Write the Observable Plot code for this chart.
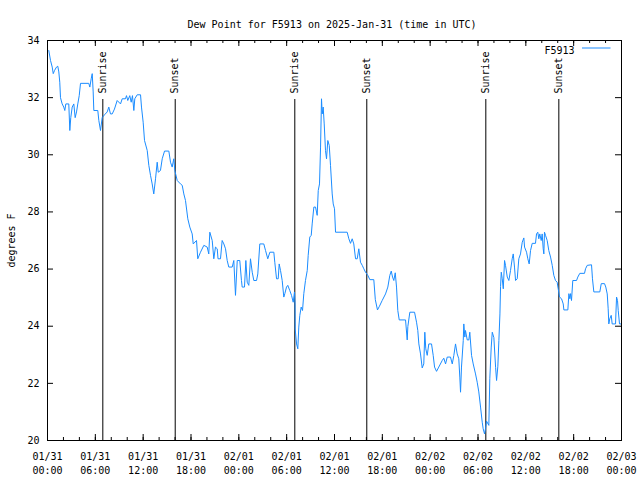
<!DOCTYPE html>
<html>
<head>
<meta charset="utf-8">
<script src="https://cdn.jsdelivr.net/npm/d3@7"></script>
<script src="https://cdn.jsdelivr.net/npm/@observablehq/plot@0.6"></script>
<style>
  html, body { margin: 0; padding: 0; background: #fff; }
  #chart svg { display: block; }
</style>
</head>
<body>
<div id="chart"></div>
<script>
// ---- data ----
const titleText = "Dew Point for F5913 on 2025-Jan-31 (time in UTC)";
const seriesName = "F5913";
const yLabel = "degrees F";
const startTime = "2025-01-31T00:00:00Z";
const endTime = "2025-02-03T00:00:00Z";

// hours after 2025-01-31 00:00 UTC
const hours = [
  0.16,0.38,0.59,0.72,0.88,1.13,1.29,1.42,1.54,1.63,1.84,2.04,2.17,2.30,2.67,2.80,2.92,3.10,3.30,3.47,
  3.64,3.80,3.98,4.14,5.18,5.31,5.48,5.61,5.73,5.81,6.31,6.44,6.65,6.86,7.15,7.49,7.69,7.90,8.12,8.40,
  8.74,9.16,9.37,9.78,9.91,10.07,10.32,10.50,10.66,10.83,10.95,11.25,11.67,11.79,12.00,12.17,12.51,12.71,12.92,13.13,
  13.33,13.55,13.76,13.89,14.17,14.39,14.68,15.22,15.43,15.64,15.84,15.97,16.27,16.68,16.90,17.10,17.31,17.60,17.85,18.15,
  18.28,18.69,18.85,19.19,19.61,20.03,20.23,20.36,20.66,20.86,21.07,21.29,21.39,21.70,21.91,22.12,22.33,22.54,22.74,23.17,
  23.37,23.58,23.80,24.12,24.33,24.42,24.71,24.88,25.05,25.25,25.46,25.68,25.88,26.22,26.38,26.63,27.13,27.35,27.63,27.89,
  28.39,28.51,28.73,28.94,29.06,29.23,29.44,29.64,29.77,29.98,30.14,30.39,30.61,30.82,30.98,31.05,31.07,31.24,31.40,31.52,
  31.65,31.82,31.99,32.15,32.36,32.58,32.70,32.90,33.08,33.20,33.41,33.62,33.83,33.96,34.12,34.25,34.37,34.46,34.58,34.71,
  34.87,35.00,35.16,35.34,35.50,35.71,35.84,36.00,36.13,37.59,37.80,38.01,38.22,38.42,38.64,38.85,39.05,39.26,39.48,39.68,
  39.89,40.18,40.43,40.93,41.12,41.39,41.64,41.98,42.40,42.69,42.94,43.12,43.28,43.44,43.62,43.78,43.94,44.12,44.91,45.12,
  45.20,45.45,46.04,46.29,46.45,46.58,46.79,47.00,47.20,47.33,47.45,47.63,47.83,48.17,48.38,48.55,48.80,49.08,49.51,49.71,
  49.93,50.14,50.55,50.77,50.97,51.18,51.39,51.59,51.72,51.81,51.93,52.15,52.22,52.35,52.43,52.65,52.85,52.97,53.19,53.40,
  53.69,53.90,54.10,54.32,54.53,54.65,54.82,54.94,55.07,55.36,55.48,55.66,55.79,55.99,56.21,56.33,56.49,56.62,56.75,56.83,
  56.92,57.04,57.17,57.33,57.45,57.67,57.87,58.08,58.29,58.42,58.58,58.71,58.92,59.12,59.33,59.55,59.75,59.84,60.09,60.25,
  60.42,60.59,60.80,61.21,61.34,61.50,61.63,61.75,61.93,62.05,62.18,62.26,62.34,62.47,62.68,62.88,63.10,63.31,63.51,63.72,
  63.93,64.06,64.23,64.48,64.69,64.77,65.27,65.40,65.52,65.61,65.73,65.89,66.36,66.52,66.77,67.36,67.49,67.70,68.24,68.36,
  68.53,69.28,69.46,69.87,70.03,70.21,70.33,70.41,70.53,70.71,70.83,71.25,71.38,71.50,71.59,71.75,71.97
];

// dew point, degrees F
const dewF = [
  33.65,33.30,33.07,32.84,32.95,33.07,33.10,32.90,32.54,32.00,31.78,31.67,31.55,31.78,31.78,30.85,31.30,31.67,31.78,31.30,
  31.50,31.78,32.07,32.50,32.50,32.37,32.66,32.84,32.20,31.55,31.55,31.20,30.85,31.30,31.40,31.50,31.67,31.43,31.43,31.60,
  31.90,31.78,31.96,31.96,32.07,31.90,32.07,31.84,32.07,31.55,31.96,32.10,32.10,31.67,31.14,30.50,30.15,29.63,29.28,28.98,
  28.63,29.16,29.74,29.39,29.45,29.86,30.13,30.13,29.74,29.57,29.86,29.45,29.10,28.98,28.93,28.63,28.40,27.76,27.47,27.23,
  26.88,27.00,26.36,26.59,26.83,26.77,26.53,27.29,27.00,26.36,26.77,26.71,26.36,26.36,27.00,26.88,26.71,26.30,26.07,26.07,
  26.30,25.08,26.30,26.30,25.60,25.37,25.37,26.30,25.54,25.43,26.36,25.89,25.60,25.60,25.83,26.88,26.88,26.65,26.36,26.59,
  26.59,26.24,25.66,25.66,26.18,25.95,25.60,25.02,25.14,25.37,25.43,25.25,25.08,24.84,25.20,24.78,23.90,23.38,23.21,23.97,
  24.38,24.67,24.55,25.14,25.60,25.95,26.48,27.12,27.18,27.58,28.17,28.17,27.88,28.75,28.98,30.27,31.96,31.43,31.67,31.08,
  30.15,29.86,30.50,30.33,29.63,28.63,28.28,28.11,27.29,27.29,27.06,26.90,27.06,26.88,26.36,26.36,26.71,26.24,26.13,26.01,
  25.89,25.78,25.63,25.63,24.93,24.57,24.70,24.90,25.13,25.37,25.78,25.93,25.72,25.60,25.87,25.37,24.55,24.22,24.22,23.52,
  23.99,24.49,24.49,24.14,23.85,23.38,23.03,22.54,22.68,23.79,23.21,22.98,23.38,23.38,22.98,22.57,22.42,22.57,22.80,22.88,
  22.68,22.92,22.92,22.68,22.98,23.38,23.03,22.86,22.22,21.69,22.57,23.50,24.08,23.62,23.85,23.52,23.52,23.79,22.98,22.68,
  22.33,22.04,21.70,21.17,20.64,20.41,20.23,20.41,20.68,20.53,22.16,23.27,23.79,23.60,22.55,22.10,22.60,23.50,24.43,25.39,
  25.89,25.66,25.31,26.30,26.13,25.72,25.60,25.95,26.36,26.53,26.07,25.60,25.66,26.36,26.53,26.94,27.09,26.77,26.59,26.36,
  26.18,26.65,26.90,26.90,27.23,27.29,27.06,27.23,27.00,27.23,26.71,26.53,27.29,27.18,27.00,26.65,26.42,26.13,25.78,25.60,
  25.54,25.31,25.02,24.96,24.78,24.57,24.57,25.14,24.96,25.14,24.90,25.60,25.60,25.72,25.85,25.85,26.01,26.13,26.15,25.66,
  25.20,25.20,25.49,25.49,25.37,25.13,24.61,24.08,24.26,24.38,24.08,24.08,25.02,24.90,24.55,24.08,24.08
];

// sun events (hours after start) and their labels
const sunHours = [6.94, 16.02, 31.02, 40.05, 54.98, 64.14];
const sunLabels = ["Sunrise", "Sunset", "Sunrise", "Sunset", "Sunrise", "Sunset"];

const yTickValues = [20, 22, 24, 26, 28, 30, 32, 34];

// ---- build tables ----
const t0 = new Date(startTime).getTime();
const t1 = new Date(endTime);
const toDate = h => new Date(t0 + h * 3600e3);
const series = hours.map((h, i) => ({time: toDate(h), dew: dewF[i]}));
const sunEvents = sunHours.map((h, i) => ({time: toDate(h), label: sunLabels[i]}));
const majorTicks = d3.utcHour.every(6).range(new Date(t0), new Date(t1.getTime() + 1));
const minorTicks = d3.utcHour.every(2).range(new Date(t0), new Date(t1.getTime() + 1));

const lineColor = "#1a8cff";
const W = 640, H = 480, ML = 47, MR = 19, MT = 40, MB = 40;
const fw = W - ML - MR, fh = H - MT - MB;

const chart = Plot.plot({
  width: W,
  height: H,
  marginLeft: ML,
  marginRight: MR,
  marginTop: MT,
  marginBottom: MB,
  style: {fontFamily: "'DejaVu Sans Mono', monospace", fontSize: "10px", color: "#000", background: "#fff"},
  x: {type: "utc", domain: [new Date(t0), t1]},
  y: {domain: [20, 34]},
  marks: [
    // ticks (inward, mirrored)
    Plot.tickX(minorTicks, {x: d => d, insetTop: fh - 3, stroke: "#000"}),
    Plot.tickX(minorTicks, {x: d => d, insetBottom: fh - 3, stroke: "#000"}),
    Plot.tickX(majorTicks, {x: d => d, insetTop: fh - 6, stroke: "#000"}),
    Plot.tickX(majorTicks, {x: d => d, insetBottom: fh - 6, stroke: "#000"}),
    Plot.tickY(yTickValues, {y: d => d, insetRight: fw - 6, stroke: "#000"}),
    Plot.tickY(yTickValues, {y: d => d, insetLeft: fw - 6, stroke: "#000"}),
    // axes labels
    Plot.axisX(majorTicks, {
      tickSize: 0, tickPadding: 10, lineHeight: 1.4,
      tickFormat: d3.utcFormat("%m/%d\n%H:%M"), label: null
    }),
    Plot.axisY(yTickValues, {
      tickSize: 0, tickPadding: 8, label: yLabel, labelAnchor: "center",
      labelOffset: 40, labelArrow: "none"
    }),
    // sunrise / sunset markers
    Plot.ruleX(sunEvents, {x: "time", insetTop: 59, stroke: "#000"}),
    Plot.text(sunEvents, {
      x: "time", text: "label", frameAnchor: "top", rotate: -90,
      textAnchor: "start", lineAnchor: "middle", dy: 53, fill: "#000"
    }),
    // the series
    Plot.line(series, {x: "time", y: "dew", stroke: lineColor, strokeWidth: 1}),
    // legend
    Plot.text([seriesName], {frameAnchor: "top-right", textAnchor: "end", dx: -47, dy: 6, fill: "#000"}),
    Plot.frame({fill: lineColor, stroke: "none", insetLeft: fw - 39.5, insetRight: 11, insetTop: 7, insetBottom: fh - 8}),
    // title
    Plot.text([titleText], {frameAnchor: "top", dy: -20, dx: -2.5, fill: "#000"}),
    Plot.frame({stroke: "#000"})
  ]
});
document.getElementById("chart").append(chart);
</script>
</body>
</html>
